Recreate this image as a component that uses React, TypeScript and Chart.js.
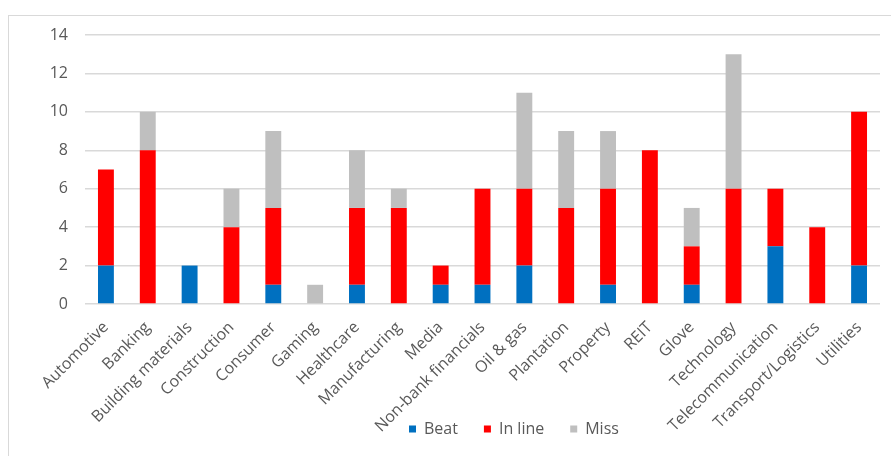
import React, { useEffect, useRef } from "react";
import { Chart, registerables } from "chart.js";

Chart.register(...registerables);

const categories = [
  "Automotive", "Banking", "Building materials", "Construction", "Consumer", "Gaming",
  "Healthcare", "Manufacturing", "Media", "Non-bank financials", "Oil & gas", "Plantation",
  "Property", "REIT", "Glove", "Technology", "Telecommunication", "Transport/Logistics", "Utilities",
];
const beat = [2, 0, 2, 0, 1, 0, 1, 0, 1, 1, 2, 0, 1, 0, 1, 0, 3, 0, 2];
const inLine = [5, 8, 0, 4, 4, 0, 4, 5, 1, 5, 4, 5, 5, 8, 2, 6, 3, 4, 8];
const miss = [0, 2, 0, 2, 4, 1, 3, 1, 0, 0, 5, 4, 3, 0, 2, 7, 0, 0, 0];
const seriesNames = ["Beat", "In line", "Miss"];
const seriesColors = ["#0070C0", "#FF0000", "#BFBFBF"];

const FONT = "'Open Sans', 'Noto Sans', sans-serif";
const TEXT = "#595959";
const LEGEND_FONT = 16;
const LEGEND_PAD = 26;
const LEGEND_H = LEGEND_FONT + LEGEND_PAD + 10;

export default function App() {
  const ref = useRef<HTMLCanvasElement | null>(null);
  useEffect(() => {
    if (!ref.current) return;
    const legendPlace = {
      id: "legendPlace",
      afterLayout(chart: any) {
        const l = chart.legend;
        if (!l || !l.lineWidths) return;
        const cur = (l.left + LEGEND_PAD + l.right - l.lineWidths[0]) / 2;
        const d = 400 - cur;
        l.left += d;
        l.right += d;
        const top = 413 - LEGEND_PAD - LEGEND_FONT / 2;
        l.top = top;
        l.bottom = top + LEGEND_H;
      },
    };
    const chart = new Chart(ref.current, {
      type: "bar",
      data: {
        labels: categories,
        datasets: [beat, inLine, miss].map((d, i) => ({
          label: seriesNames[i],
          data: d,
          backgroundColor: seriesColors[i],
          borderWidth: 0,
          categoryPercentage: 1,
          barPercentage: 0.38,
        })),
      },
      options: {
        animation: false,
        responsive: false,
        layout: { padding: { top: 19, left: 0, right: 11, bottom: -LEGEND_H } },
        plugins: {
          tooltip: { enabled: false },
          legend: {
            position: "bottom",
            labels: {
              boxWidth: 7,
              boxHeight: 7,
              padding: LEGEND_PAD,
              color: TEXT,
              font: { family: FONT, size: LEGEND_FONT },
            },
          },
        },
        scales: {
          x: {
            stacked: true,
            grid: { display: false, drawTicks: false },
            border: { display: false },
            ticks: {
              autoSkip: false,
              maxRotation: 45,
              minRotation: 45,
              padding: 14,
              color: TEXT,
              font: { family: FONT, size: 16 },
            },
            afterFit: (s: any) => {
              s.height = 152;
              s.paddingTop = 0;
              s.paddingBottom = 0;
            },
          },
          y: {
            stacked: true,
            min: 0,
            max: 14,
            ticks: {
              stepSize: 2,
              padding: 17,
              color: TEXT,
              font: { family: FONT, size: 16 },
            },
            grid: { color: "#D9D9D9", lineWidth: 1.5, drawTicks: false },
            border: { display: false },
            afterFit: (s: any) => {
              s.width = 76;
              s.paddingTop = 0;
              s.paddingBottom = 0;
            },
          },
        },
      },
      plugins: [legendPlace],
    });
    return () => chart.destroy();
  }, []);
  return (
    <div
      style={{
        position: "fixed",
        left: 8,
        top: 15,
        width: 883,
        height: 441,
        borderTop: "1px solid #D9D9D9",
        borderLeft: "1px solid #D9D9D9",
        boxSizing: "border-box",
        background: "#fff",
        overflow: "hidden",
      }}
    >
      <canvas ref={ref} width={882} height={440} style={{ display: "block" }} />
    </div>
  );
}
